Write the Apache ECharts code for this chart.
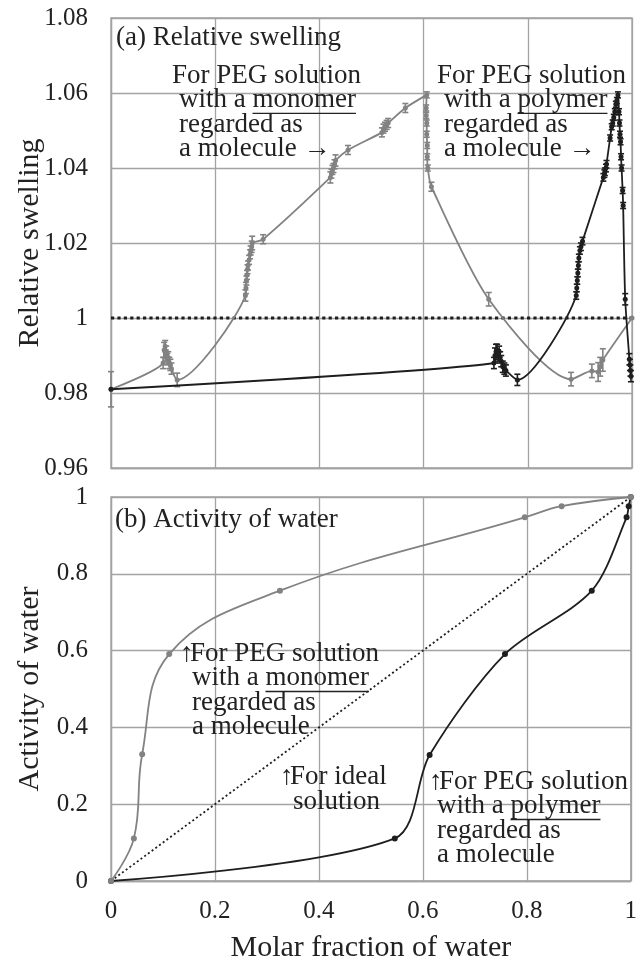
<!DOCTYPE html>
<html>
<head>
<meta charset="utf-8">
<script src="https://cdn.jsdelivr.net/npm/echarts@6/dist/echarts.min.js"></script>
<style>
  html, body { margin: 0; padding: 0; background: #fff; }
  #chart { width: 640px; height: 964px; }
</style>
</head>
<body>
<div id="chart"></div>
<script>
// (a) relative swelling, PEG solution with a monomer regarded as a molecule (grey)
const monoX = [0, 0.100, 0.102, 0.104, 0.105, 0.106, 0.108, 0.110, 0.112, 0.114, 0.116, 0.127,
  0.258, 0.259, 0.260, 0.261, 0.262, 0.263, 0.265, 0.267, 0.268, 0.270, 0.271, 0.292,
  0.421, 0.423, 0.425, 0.427, 0.429, 0.431, 0.455, 0.520, 0.523, 0.526, 0.529, 0.532, 0.565,
  0.606, 0.605, 0.605, 0.606, 0.606, 0.607, 0.607, 0.608, 0.615, 0.725, 0.883,
  0.923, 0.935, 0.939, 0.944, 1.0]
const monoY = [0.981, 0.988, 0.9915, 0.9925, 0.990, 0.991, 0.989, 0.9895, 0.988, 0.9875, 0.9865, 0.9835,
  1.006, 1.008, 1.010, 1.0115, 1.013, 1.014, 1.0155, 1.017, 1.018, 1.019, 1.020, 1.021,
  1.0375, 1.0385, 1.0395, 1.040, 1.041, 1.042, 1.0448, 1.0495, 1.0505, 1.051, 1.0515, 1.052, 1.056,
  1.0595, 1.056, 1.054, 1.052, 1.049, 1.046, 1.043, 1.040, 1.035, 1.005, 0.9837,
  0.9859, 0.9856, 0.987, 0.9888, 1.0]
const monoErr = [0.0047, 0.0015, 0.002, 0.0015, 0.0015, 0.0015, 0.0015, 0.0015, 0.0015, 0.0015, 0.0015, 0.0018,
  0.0015, 0.0015, 0.0012, 0.0012, 0.0012, 0.0012, 0.0012, 0.0012, 0.0012, 0.0015, 0.0018, 0.0012,
  0.0015, 0.0012, 0.0012, 0.0012, 0.0012, 0.0015, 0.0012, 0.0012, 0.0012, 0.0012, 0.0012, 0.0012, 0.0012,
  0.0008, 0.0008, 0.0008, 0.0008, 0.0008, 0.0008, 0.0008, 0.0008, 0.0012, 0.0018, 0.0018,
  0.0018, 0.0025, 0.0025, 0.003, 0]

// (a) relative swelling, PEG solution with a polymer regarded as a molecule (black)
const polyX = [0, 0.735, 0.737, 0.739, 0.741, 0.743, 0.745, 0.747, 0.749, 0.752, 0.755, 0.758, 0.780,
  0.893, 0.894, 0.895, 0.896, 0.897, 0.898, 0.900, 0.902, 0.905,
  0.945, 0.947, 0.948, 0.950, 0.951, 0.958, 0.961, 0.963, 0.965, 0.967, 0.969, 0.971, 0.973,
  0.975, 0.976, 0.977, 0.978, 0.979, 0.980, 0.982, 0.983, 0.987, 0.995, 0.996, 0.997, 0.998]
const polyY = [0.981, 0.988, 0.990, 0.991, 0.9915, 0.990, 0.991, 0.9895, 0.9885, 0.987, 0.9865, 0.986, 0.9835,
  1.006, 1.008, 1.010, 1.012, 1.014, 1.016, 1.018, 1.019, 1.0205,
  1.0375, 1.0385, 1.039, 1.040, 1.041, 1.048, 1.051, 1.052, 1.0535, 1.055, 1.057, 1.058, 1.0595,
  1.055, 1.052, 1.049, 1.047, 1.043, 1.040, 1.034, 1.030, 1.005, 0.989, 0.9875, 0.986, 0.9845]
const polyErr = [0, 0.0015, 0.002, 0.002, 0.0015, 0.0015, 0.0015, 0.0015, 0.0015, 0.0015, 0.0015, 0.0015, 0.0015,
  0.001, 0.001, 0.001, 0.001, 0.001, 0.001, 0.001, 0.001, 0.001,
  0.001, 0.001, 0.001, 0.001, 0.001, 0.0008, 0.0008, 0.0008, 0.0008, 0.0008, 0.0008, 0.0008, 0.0008,
  0.0008, 0.0008, 0.0008, 0.0008, 0.0008, 0.0008, 0.0008, 0.0008, 0.0015, 0.0015, 0.0015, 0.0015, 0.0015]

// reference level (no swelling)
const refX = [0, 1]
const refY = [1, 1]

// (b) activity of water
const monoActX = [0, 0.044, 0.060, 0.112, 0.325, 0.796, 0.867, 1.0]
const monoActY = [0, 0.111, 0.330, 0.591, 0.756, 0.947, 0.976, 1.0]
const polyActX = [0, 0.546, 0.613, 0.758, 0.925, 0.992, 0.996, 1.0]
const polyActY = [0, 0.111, 0.328, 0.591, 0.756, 0.947, 0.976, 1.0]
const idealX = [0, 1]
const idealY = [0, 1]

// tick labels
const xTicks = ['0', '0.2', '0.4', '0.6', '0.8', '1']
const swellTicks = ['0.96', '0.98', '1', '1.02', '1.04', '1.06', '1.08']
const actTicks = ['0', '0.2', '0.4', '0.6', '0.8', '1']

const FONT = '"Liberation Serif", "Times New Roman", serif'
const GREY = '#828282'
const BLACK = '#1e1e1e'
const GRIDC = '#a3a3a3'
const TXT = '#222'

const zip = (...cols) => cols[0].map((_, i) => cols.map(c => c[i]))

const errorBars = (color) => (params, api) => {
  const x = api.value(0), y = api.value(1), e = api.value(2)
  if (!e) return null
  const hi = api.coord([x, y + e])
  const lo = api.coord([x, y - e])
  const w = 3
  const st = { stroke: color, lineWidth: 1.6 }
  return {
    type: 'group',
    children: [
      { type: 'line', shape: { x1: hi[0], y1: hi[1], x2: lo[0], y2: lo[1] }, style: st },
      { type: 'line', shape: { x1: hi[0] - w, y1: hi[1], x2: hi[0] + w, y2: hi[1] }, style: st },
      { type: 'line', shape: { x1: lo[0] - w, y1: lo[1], x2: lo[0] + w, y2: lo[1] }, style: st }
    ]
  }
}

// annotation helpers (text with underlined keyword)
const measure = (() => {
  const ctx = document.createElement('canvas').getContext('2d')
  return (s, size) => { ctx.font = size + 'px ' + FONT; return ctx.measureText(s).width }
})()

const ANN = 27
const textAt = (x, base, str, size = ANN) => ({
  type: 'text', x, y: base - size * 0.3, z: 100,
  style: { text: str, font: size + 'px ' + FONT, fill: TXT, verticalAlign: 'middle', align: 'left' }
})
const underline = (x, base, before, word, size = ANN) => {
  const x1 = x + measure(before, size)
  const x2 = x1 + measure(word, size)
  return { type: 'line', z: 100, shape: { x1, y1: base + 5, x2, y2: base + 5 }, style: { stroke: TXT, lineWidth: 1.3 } }
}
const note = (x0, x1, base, word, lh, arrowUp) => {
  const els = []
  if (arrowUp) {
    els.push(textAt(x0, base, '↑'))
    els.push(textAt(x0 + 10, base, 'For PEG solution'))
  } else {
    els.push(textAt(x0, base, 'For PEG solution'))
  }
  els.push(textAt(x1, base + lh, 'with a ' + word))
  els.push(underline(x1, base + lh, 'with a ', word))
  els.push(textAt(x1, base + 2 * lh, 'regarded as'))
  els.push(textAt(x1, base + 3 * lh, arrowUp ? 'a molecule' : 'a molecule →'))
  return els
}

const graphics = [
  textAt(116, 46, '(a) Relative swelling'),
  ...note(172, 179, 84, 'monomer', 24.3, false),
  ...note(437, 444, 84, 'polymer', 24.3, false),
  textAt(115, 528, '(b) Activity of water'),
  ...note(180, 192, 662, 'monomer', 24.5, true),
  textAt(280, 785, '↑'),
  textAt(290, 785, 'For ideal'),
  textAt(293, 810, 'solution'),
  ...note(429, 437, 790, 'polymer', 24.5, true)
]

const axisText = { fontFamily: FONT, fontSize: 25, color: TXT }
const nameText = { fontFamily: FONT, fontSize: 30, color: TXT }
const split = { show: true, lineStyle: { color: GRIDC, width: 1.3 } }
const axLine = { show: true, lineStyle: { color: GRIDC, width: 1.3 } }

const option = {
  animation: false,
  backgroundColor: '#fff',
  graphic: graphics,
  grid: [
    { left: 111, right: 8, top: 18, height: 450, show: true, borderColor: GRIDC, borderWidth: 1.3 },
    { left: 111, right: 8, top: 497, height: 388, show: true, borderColor: GRIDC, borderWidth: 1.3 }
  ],
  xAxis: [
    {
      gridIndex: 0, type: 'value', min: 0, max: 1, interval: 0.2,
      axisLabel: { show: false }, axisTick: { show: false }, axisLine: axLine, splitLine: split
    },
    {
      gridIndex: 1, type: 'value', min: 0, max: 1, interval: 0.2,
      name: 'Molar fraction of water', nameLocation: 'middle', nameGap: 52, nameMoveOverlap: false,
      nameTextStyle: nameText,
      axisLabel: { ...axisText, margin: 18, formatter: (v, i) => xTicks[i] },
      axisTick: { show: false }, axisLine: axLine, splitLine: split
    }
  ],
  yAxis: [
    {
      gridIndex: 0, type: 'value', min: 0.96, max: 1.08, interval: 0.02,
      name: 'Relative swelling', nameLocation: 'middle', nameGap: 66, nameMoveOverlap: false,
      nameTextStyle: nameText,
      axisLabel: { ...axisText, margin: 23, formatter: (v, i) => swellTicks[i] },
      axisTick: { show: false }, axisLine: axLine, splitLine: split
    },
    {
      gridIndex: 1, type: 'value', min: 0, max: 1, interval: 0.2,
      name: 'Activity of water', nameLocation: 'middle', nameGap: 66, nameMoveOverlap: false,
      nameTextStyle: nameText,
      axisLabel: { ...axisText, margin: 23, formatter: (v, i) => actTicks[i] },
      axisTick: { show: false }, axisLine: axLine, splitLine: split
    }
  ],
  series: [
    {
      name: 'no swelling', type: 'line', xAxisIndex: 0, yAxisIndex: 0,
      data: zip(refX, refY), symbol: 'none', z: 3,
      lineStyle: { color: BLACK, width: 3, type: [3.2, 3.2] }
    },
    {
      name: 'monomer swelling', type: 'line', xAxisIndex: 0, yAxisIndex: 0,
      data: zip(monoX, monoY), smooth: 0.25, symbol: 'circle', symbolSize: 5, z: 4,
      itemStyle: { color: GREY }, lineStyle: { color: GREY, width: 1.8 }
    },
    {
      name: 'monomer error', type: 'custom', xAxisIndex: 0, yAxisIndex: 0,
      data: zip(monoX, monoY, monoErr), renderItem: errorBars(GREY), z: 4,
      encode: { x: 0, y: 1 }
    },
    {
      name: 'polymer swelling', type: 'line', xAxisIndex: 0, yAxisIndex: 0,
      data: zip(polyX, polyY), smooth: 0.25, symbol: 'circle', symbolSize: 5, z: 5,
      itemStyle: { color: BLACK }, lineStyle: { color: BLACK, width: 1.8 }
    },
    {
      name: 'polymer error', type: 'custom', xAxisIndex: 0, yAxisIndex: 0,
      data: zip(polyX, polyY, polyErr), renderItem: errorBars(BLACK), z: 5,
      encode: { x: 0, y: 1 }
    },
    {
      name: 'ideal solution', type: 'line', xAxisIndex: 1, yAxisIndex: 1,
      data: zip(idealX, idealY), symbol: 'none', z: 3,
      lineStyle: { color: BLACK, width: 1.8, type: [2, 2.6] }
    },
    {
      name: 'polymer activity', type: 'line', xAxisIndex: 1, yAxisIndex: 1,
      data: zip(polyActX, polyActY), smooth: 0.3,
      symbol: 'circle', symbolSize: 6, z: 4,
      itemStyle: { color: BLACK }, lineStyle: { color: BLACK, width: 1.8 }
    },
    {
      name: 'monomer activity', type: 'line', xAxisIndex: 1, yAxisIndex: 1,
      data: zip(monoActX, monoActY), smooth: 0.4,
      symbol: 'circle', symbolSize: 6, z: 5,
      itemStyle: { color: GREY }, lineStyle: { color: GREY, width: 1.8 }
    }
  ]
}

const chart = echarts.init(document.getElementById('chart'), null, { renderer: 'canvas' })
chart.setOption(option)
</script>
</body>
</html>
